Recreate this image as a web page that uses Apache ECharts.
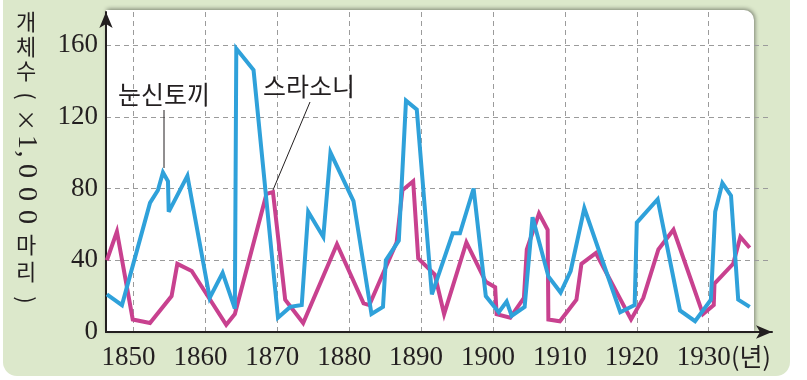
<!DOCTYPE html>
<html>
<head>
<meta charset="utf-8">
<script src="https://cdn.jsdelivr.net/npm/echarts@6/dist/echarts.min.js"></script>
<style>
html,body{margin:0;padding:0;background:#ffffff;}
#chart{width:807px;height:380px;}
</style>
</head>
<body>
<div id="chart"></div>
<script>
// 눈신토끼 (snowshoe hare): [year, value ×1000]
const hareYears  = [1846.3,1848.4,1852.3,1853.4,1854.1,1854.8,1854.9,1857.5,1860.6,1862.4,1864.1,1864.3,1866.7,1870.1,1871.8,1873.4,1874.3,1876.4,1877.4,1880.6,1883.1,1884.7,1885.1,1886.9,1887.9,1889.4,1891.5,1894.4,1895.4,1897.3,1899.0,1900.8,1901.9,1902.6,1904.4,1905.5,1907.7,1909.4,1910.8,1912.7,1917.7,1919.7,1920.0,1922.9,1926.0,1928.1,1930.3,1930.9,1931.9,1933.1,1934.1,1935.7];
const hareValues = [21,15,72,79,89,84,67,87,19,33,13,158,146,8,14,15,67,53,100,73,10,14,40,51,129,124,21,55,55,80,20,11,17,9,14,64,31,22,34,69,11,15,61,74,12,6,18,67,83,76,18,14];
// 스라소니 (lynx)
const lynxYears  = [1846.3,1847.7,1849.9,1852.3,1855.3,1856.1,1858.1,1862.9,1864.1,1868.5,1869.4,1871.1,1873.6,1878.3,1882.0,1882.8,1886.6,1887.4,1888.9,1889.6,1891.9,1893.2,1896.3,1899.0,1900.3,1900.5,1902.4,1904.3,1904.7,1906.4,1907.6,1907.7,1909.3,1911.6,1912.3,1914.3,1919.2,1920.9,1923.0,1925.1,1929.2,1930.7,1930.8,1933.4,1934.4,1935.7];
const lynxValues = [40,56,7,5,20,38,34,4,10,77,78,18,5,49,16,15,50,79,84,41,32,10,50,28,25,10,8,19,46,66,57,7,6,18,38,44,7,19,46,57,10,15,27,38,53,47];
const yTicks = [0,40,80,120,160];
const xTicks = [1850,1860,1870,1880,1890,1900,1910,1920,1930];
const hareName = '눈신토끼';
const lynxName = '스라소니';

const zip = (xs, ys) => xs.map((x, i) => [x, ys[i]]);

const chart = echarts.init(document.getElementById('chart'));
const serif = '"Liberation Serif", "DejaVu Serif", serif';
const kr = '"Noto Sans CJK KR", "Noto Sans", sans-serif';
const ink = '#231f20';

const titleParts = [];
// upright Korean characters
[['개',22],['체',47],['수',71],['×',120],['마',245],['리',272]].forEach(([t,y]) => {
  titleParts.push({type:'text', x:26, y:y, z:5, style:{text:t, font:'22px ' + kr, fill:ink, align:'center', verticalAlign:'middle'}});
});
// rotated characters (reading top to bottom)
[['(',96,kr,22],[')',300,kr,22],['1',142,serif,28],[',',154,serif,28],['0',171,serif,28],['0',194,serif,28],['0',217,serif,28]].forEach(([t,y,f,s]) => {
  titleParts.push({type:'text', x:26, y:y, rotation:-Math.PI/2, z:5, style:{text:t, font:s + 'px ' + f, fill:ink, align:'center', verticalAlign:'middle'}});
});

chart.setOption({
  animation: false,
  grid: {left: 106, right: 35, top: 12, bottom: 48, containLabel: false},
  xAxis: {
    type: 'value',
    min: 1846.18, max: 1938.8,
    minInterval: 10, maxInterval: 10,
    axisLine: {show: true, lineStyle: {color: ink, width: 2}, symbol: ['none','arrow'], symbolSize: [10,16]},
    axisTick: {show: false},
    axisLabel: {
      showMinLabel: false, showMaxLabel: false, margin: 12,
      padding: [0, 10, 0, 0],
      color: ink, fontFamily: serif, fontSize: 27,
      formatter: v => xTicks.includes(Math.round(v)) && Math.abs(v - Math.round(v)) < 1e-6 ? String(Math.round(v)) : ''
    },
    splitLine: {show: true, showMinLine: false, showMaxLine: false, lineStyle: {color: '#9b9b9b', width: 1, type: [5,4]}}
  },
  yAxis: {
    type: 'value',
    min: 0, max: 178.4, interval: 40,
    axisLine: {show: true, lineStyle: {color: ink, width: 2}, symbol: ['none','arrow'], symbolSize: [10,16]},
    axisTick: {show: false},
    axisLabel: {
      showMaxLabel: false, margin: 8,
      color: ink, fontFamily: serif, fontSize: 27,
      formatter: v => yTicks.includes(v) ? String(v) : ''
    },
    splitLine: {show: true, showMinLine: false, showMaxLine: false, lineStyle: {color: '#9b9b9b', width: 1, type: [5,4]}}
  },
  series: [
    {name: lynxName, type: 'line', data: zip(lynxYears, lynxValues), showSymbol: false, symbol: 'none',
     lineStyle: {color: '#c8418f', width: 4, join: 'miter', miterLimit: 4}, z: 3},
    {name: hareName, type: 'line', data: zip(hareYears, hareValues), showSymbol: false, symbol: 'none',
     lineStyle: {color: '#2fa1da', width: 4, join: 'miter', miterLimit: 4}, z: 4}
  ],
  graphic: [
    {type:'rect', z:-100, shape:{x:3, y:-30, width:787, height:406, r:14}, style:{fill:'#dce8cb'}},
    {type:'rect', z:-90, shape:{x:106, y:10, width:648, height:322, r:[0,10,0,0]},
     style:{fill:'#ffffff', shadowBlur:4, shadowColor:'rgba(0,0,0,0.45)', shadowOffsetX:1, shadowOffsetY:-1}},
    {type:'text', x:118, y:94, z:5, style:{text:hareName, font:'25px ' + kr, fill:ink, align:'left', verticalAlign:'middle'}},
    {type:'line', z:5, shape:{x1:164, y1:110, x2:164, y2:168}, style:{stroke:ink, lineWidth:1}},
    {type:'text', x:263, y:86, z:5, style:{text:lynxName, font:'25px ' + kr, fill:ink, align:'left', verticalAlign:'middle'}},
    {type:'line', z:5, shape:{x1:310, y1:102, x2:273, y2:190}, style:{stroke:ink, lineWidth:1}},
    {type:'text', x:731, y:356, z:5, style:{text:'(년)', font:'25px ' + kr, fill:ink, align:'left', verticalAlign:'middle'}}
  ].concat(titleParts)
});
</script>
</body>
</html>
